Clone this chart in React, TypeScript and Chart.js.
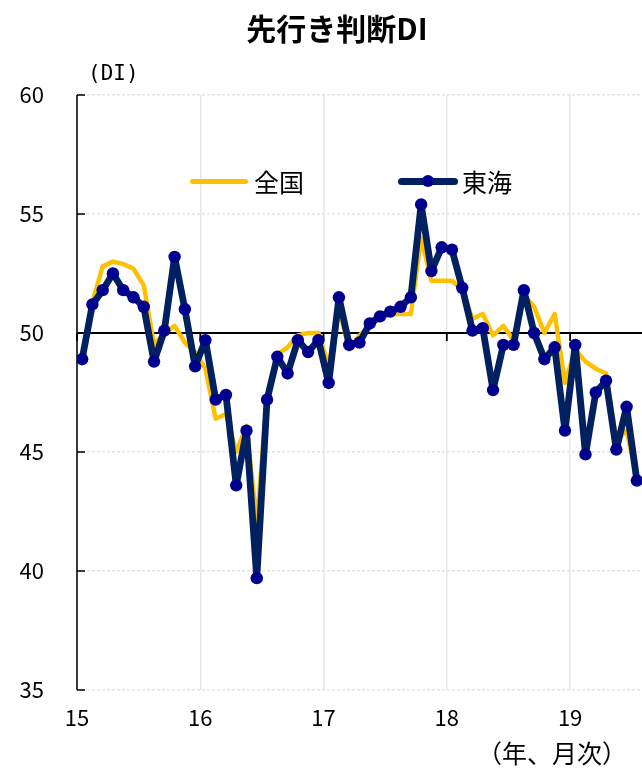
import React, { useEffect, useRef } from 'react';
import { Chart, registerables } from 'chart.js';

Chart.register(...registerables);

// Year tick labels (placed at the January boundary of each year)
const yearLabels = ['15', '16', '17', '18', '19'];
// Y-axis tick values
const yTicks = [35, 40, 45, 50, 55, 60];

// 全国 (national), monthly 2015/1 – 2019/7
const zenkoku = [
  48.9, 51.3, 52.8, 53.0, 52.9, 52.7, 52.0, 49.5, 50.0, 50.3, 49.6, 49.2,
  48.5, 46.4, 46.6, 45.0, 46.1, 42.0, 47.3, 49.1, 49.4, 49.9, 50.0, 50.0,
  48.6, 51.0, 49.3, 49.9, 50.3, 50.6, 50.8, 50.8, 50.8, 54.0, 52.2, 52.2,
  52.2, 51.8, 50.6, 50.8, 49.9, 50.3, 49.7, 51.6, 51.1, 50.0, 50.8, 47.9,
  49.3, 48.8, 48.5, 48.3, 45.5, 45.9, 43.9,
];

// 東海 (Tokai), monthly 2015/1 – 2019/7
const tokai = [
  48.9, 51.2, 51.8, 52.5, 51.8, 51.5, 51.1, 48.8, 50.1, 53.2, 51.0, 48.6,
  49.7, 47.2, 47.4, 43.6, 45.9, 39.7, 47.2, 49.0, 48.3, 49.7, 49.2, 49.7,
  47.9, 51.5, 49.5, 49.6, 50.4, 50.7, 50.9, 51.1, 51.5, 55.4, 52.6, 53.6,
  53.5, 51.9, 50.1, 50.2, 47.6, 49.5, 49.5, 51.8, 50.0, 48.9, 49.4, 45.9,
  49.5, 44.9, 47.5, 48.0, 45.1, 46.9, 43.8,
];

const JP = '"Noto Sans CJK JP", "Noto Sans", sans-serif';

const axisPlugin = {
  id: 'excelAxes',
  beforeDatasetsDraw(chart: any) {
    const { ctx, chartArea, scales } = chart;
    const x = scales.x;
    const y = scales.y;
    ctx.save();
    ctx.strokeStyle = '#000';
    // horizontal axis crossing at 50
    const y50 = y.getPixelForValue(50);
    ctx.lineWidth = 1.8;
    ctx.beginPath();
    ctx.moveTo(chartArea.left, y50);
    ctx.lineTo(chartArea.right, y50);
    for (const t of x.ticks) {
      const px = x.getPixelForValue(t.value);
      ctx.moveTo(px, y50);
      ctx.lineTo(px, y50 + 8);
    }
    ctx.stroke();
    // vertical axis with inward ticks
    ctx.lineWidth = 1.5;
    ctx.beginPath();
    const lx = chartArea.left;
    ctx.moveTo(lx, chartArea.top);
    ctx.lineTo(lx, chartArea.bottom);
    for (const t of y.ticks) {
      const py = y.getPixelForValue(t.value);
      ctx.moveTo(lx, py);
      ctx.lineTo(lx + 8, py);
    }
    ctx.stroke();
    ctx.restore();
  },
};

export default function App() {
  const ref = useRef<HTMLCanvasElement>(null);

  useEffect(() => {
    document.body.style.margin = '0';
    const chart = new Chart(ref.current as HTMLCanvasElement, {
      type: 'line',
      data: {
        datasets: [
          {
            label: '東海',
            data: tokai.map((v, i) => ({ x: i, y: v })),
            borderColor: '#002060',
            borderWidth: 6.8,
            borderJoinStyle: 'round',
            borderCapStyle: 'round',
            pointRadius: 6.2,
            pointBackgroundColor: '#00008f',
            pointBorderWidth: 0,
            tension: 0,
          },
          {
            label: '全国',
            data: zenkoku.map((v, i) => ({ x: i, y: v })),
            borderColor: '#FFC000',
            borderWidth: 4.5,
            borderJoinStyle: 'round',
            borderCapStyle: 'round',
            pointRadius: 0,
            tension: 0,
          },
        ],
      },
      options: {
        animation: false,
        responsive: false,
        layout: { autoPadding: false, padding: { top: 95, left: 0, right: 0, bottom: 0 } },
        plugins: {
          legend: { display: false },
          tooltip: { enabled: false },
        },
        scales: {
          x: {
            type: 'linear',
            min: -0.5,
            max: 54.5,
            afterBuildTicks: (s: any) => {
              s.ticks = yearLabels.map((_, k) => ({ value: -0.5 + 12 * k }));
            },
            afterFit: (s: any) => {
              s.height = 79;
            },
            ticks: {
              callback: (_v: any, idx: number) => yearLabels[idx],
              font: { family: JP, size: 22 },
              color: '#000',
              padding: 14,
              maxRotation: 0,
              autoSkip: false,
            },
            grid: { color: '#e8e8e8', lineWidth: 1.5, drawTicks: false },
            border: { display: false },
          },
          y: {
            min: 35,
            max: 60,
            afterBuildTicks: (s: any) => {
              s.ticks = yTicks.map((v) => ({ value: v }));
            },
            afterFit: (s: any) => {
              s.width = 77;
            },
            ticks: {
              callback: (v: any) => String(v),
              font: { family: JP, size: 22 },
              color: '#000',
              padding: 33,
            },
            grid: {
              color: (c: any) => (c.tick && c.tick.value === 50 ? 'rgba(0,0,0,0)' : '#e4e4e4'),
              lineWidth: 1.5,
              drawTicks: false,
            },
            border: { display: false, dash: [3, 2] },
          },
        },
      },
      plugins: [axisPlugin],
    } as any);
    return () => chart.destroy();
  }, []);

  const txt: React.CSSProperties = {
    position: 'absolute',
    whiteSpace: 'nowrap',
    lineHeight: 1,
    transform: 'translateY(-50%)',
    color: '#000',
    fontFamily: JP,
  };

  return (
    <div style={{ position: 'relative', width: 642, height: 769, background: '#fff' }}>
      <canvas ref={ref} width={642} height={769} style={{ position: 'absolute', left: 0, top: 0 }} />
      <div style={{ ...txt, left: 337, top: 27, transform: 'translate(-50%,-50%)', fontSize: 30, fontWeight: 700 }}>
        先行き判断DI
      </div>
      <div style={{ ...txt, left: 88, top: 73, fontSize: 21, fontFamily: '"DejaVu Sans Mono", monospace' }}>(DI)</div>
      <div style={{ ...txt, left: 477, top: 752, fontSize: 25 }}>（年、月次）</div>
      {/* legend */}
      <div style={{ position: 'absolute', left: 190, top: 178.5, width: 58, height: 5, borderRadius: 2.5, background: '#FFC000' }} />
      <div style={{ ...txt, left: 254, top: 181, fontSize: 25 }}>全国</div>
      <div style={{ position: 'absolute', left: 398, top: 177.5, width: 60, height: 7, borderRadius: 3.5, background: '#002060' }} />
      <div style={{ position: 'absolute', left: 422, top: 175, width: 12, height: 12, borderRadius: 6, background: '#00008f' }} />
      <div style={{ ...txt, left: 462, top: 181, fontSize: 25 }}>東海</div>
    </div>
  );
}
